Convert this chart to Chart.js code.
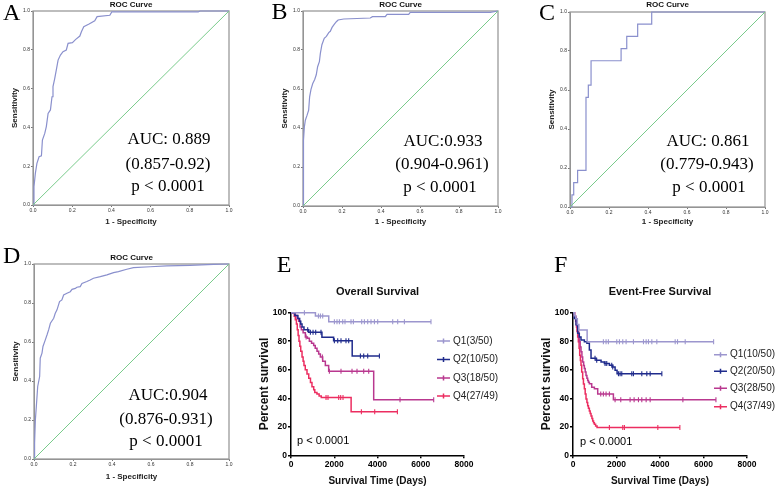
<!DOCTYPE html>
<html>
<head>
<meta charset="utf-8">
<script src="https://cdn.jsdelivr.net/npm/chart.js@4.4.0/dist/chart.umd.min.js"></script>
<style>
  body { margin: 0; background: #fff; }
  #wrap { position: relative; width: 779px; height: 490px; overflow: hidden; background: #fff; }
  canvas { position: absolute; }
</style>
</head>
<body>
<div id="wrap">
  <canvas id="rocA" width="260" height="230" style="left:0px;top:0px"></canvas>
  <canvas id="rocB" width="260" height="230" style="left:260px;top:0px"></canvas>
  <canvas id="rocC" width="260" height="230" style="left:519px;top:0px"></canvas>
  <canvas id="rocD" width="260" height="255" style="left:0px;top:230px"></canvas>
  <canvas id="kmE" width="263" height="240" style="left:256px;top:250px"></canvas>
  <canvas id="kmF" width="241" height="240" style="left:538px;top:250px"></canvas>
</div>
<script>
/* ROC data (1 - specificity, sensitivity) */
const diagX = [0, 1];
const diagY = [0, 1];

const rocA_fpr = [0, .005, .012, .02, .031, .043, .048, .06, .068, .077, .089, .097, .102, .111, .119, .128, .14, .153, .17, .179, .201, .218, .239, .247, .259, .286, .315, .327, .392, .402, .843, .852, 1];
const rocA_tpr = [0, .094, .163, .215, .249, .253, .335, .369, .404, .472, .49, .558, .61, .653, .696, .747, .773, .79, .799, .833, .837, .854, .871, .893, .919, .933, .95, .971, .978, .995, .995, 1, 1];

const rocB_fpr = [0, .002, .003, .007, .012, .021, .029, .034, .041, .05, .06, .068, .075, .084, .089, .097, .109, .12, .132, .14, .149, .161, .171, .18, .209, .345, .356, .422, .431, .542, .55, .961, 1];
const rocB_tpr = [0, .166, .337, .406, .44, .466, .491, .56, .598, .628, .649, .673, .714, .74, .783, .827, .86, .87, .889, .896, .916, .933, .945, .954, .959, .964, .971, .971, .983, .983, .993, .993, 1];

const rocC_fpr = [0, .01, .019, .039, .082, .094, .108, .262, .291, .347, .419, 1];
const rocC_tpr = [0, 0, .0625, .125, .1875, .5625, .625, .75, .8125, .875, .9375, 1];

const rocD_fpr = [0, .003, .007, .012, .019, .029, .032, .041, .046, .058, .067, .075, .084, .101, .109, .118, .131, .143, .152, .169, .186, .195, .212, .22, .237, .246, .271, .288, .305, .34, .374, .408, .433, .476, .51, .596, .681, .8, .92, 1];
const rocD_tpr = [0, .082, .2, .27, .372, .423, .517, .543, .577, .611, .637, .662, .696, .722, .747, .765, .807, .816, .841, .85, .858, .87, .875, .881, .884, .9, .91, .918, .927, .935, .944, .956, .961, .973, .981, .986, .99, .993, .998, 1];

const rocTicks = [0, 0.2, 0.4, 0.6, 0.8, 1.0];
const aucA = ['AUC: 0.889', '(0.857-0.92)', 'p < 0.0001'];
const aucB = ['AUC:0.933', '(0.904-0.961)', 'p < 0.0001'];
const aucC = ['AUC: 0.861', '(0.779-0.943)', 'p < 0.0001'];
const aucD = ['AUC:0.904', '(0.876-0.931)', 'p < 0.0001'];

/* Overall survival: event times (days), survival (%), censored times, last follow-up */
const os_q1_time = [0, 1130, 1745];
const os_q1_surv = [100, 97.7, 93.6];
const os_q1_cens = [620, 1267, 1360, 1466, 2006, 2127, 2238, 2391, 2497, 2775, 2885, 3269, 3394, 3547, 3700, 3857, 4009, 4703, 4934, 5244, 6474];

const os_q2_time = [0, 180, 320, 400, 450, 510, 600, 820, 1430, 1970, 2830];
const os_q2_surv = [100, 98, 96, 94, 92, 90, 88, 86.3, 82.7, 80.3, 69.6];
const os_q2_cens = [772, 896, 1019, 1142, 1387, 2006, 2160, 2312, 2543, 2668, 3209, 3362, 3547, 4088];

const os_q3_time = [0, 200, 280, 356, 420, 479, 560, 664, 760, 849, 950, 1049, 1120, 1203, 1280, 1357, 1465, 1588, 1742, 3824];
const os_q3_surv = [100, 98, 96, 94, 90, 88, 86, 83, 82, 80, 78.5, 77, 75, 73, 71, 69, 66, 63, 59, 39];
const os_q3_cens = [700, 1450, 1775, 2312, 2821, 3052, 3362, 3593, 5041, 6599];

const os_q4_time = [0, 150, 200, 250, 290, 330, 370, 410, 450, 510, 560, 600, 660, 740, 820, 900, 970, 1050, 1100, 1200, 1300, 1400, 2780];
const os_q4_surv = [100, 97.5, 95, 92, 88, 84, 80, 76.5, 73, 69, 66, 63, 60, 57, 54, 51, 48, 46, 44, 43, 41.5, 40.5, 30.5];
const os_q4_cens = [1620, 1711, 2206, 2298, 2405, 3255, 3871, 4920];

const osEnd = [6474, 4088, 6599, 4920];
const osLabels = ['Q1(3/50)', 'Q2(10/50)', 'Q3(18/50)', 'Q4(27/49)'];

/* Event-free survival */
const efs_q1_time = [0, 60, 130, 200, 270, 650];
const efs_q1_surv = [100, 97.9, 95.8, 91.8, 87.8, 79.6];
const efs_q1_cens = [1397, 1520, 1627, 2012, 2135, 2288, 2441, 2779, 3240, 3363, 3470, 3624, 3854, 4698, 4806, 5159, 6465];

const efs_q2_time = [0, 60, 138, 215, 290, 368, 522, 640, 752, 829, 1060, 1290, 1443, 1673, 1827, 1935, 2027];
const efs_q2_surv = [100, 96, 91.5, 85.6, 83, 80.9, 79.7, 78.5, 73.8, 68, 66.7, 65.5, 64.3, 63.1, 62, 59.6, 57.2];
const efs_q2_cens = [1013, 1090, 1474, 1551, 1781, 1827, 2089, 2165, 2242, 2703, 2779, 3163, 3394, 3547, 4085];

const efs_q3_time = [0, 80, 138, 180, 215, 260, 292, 330, 368, 410, 445, 490, 522, 560, 598, 640, 675, 710, 752, 860, 983, 1136, 1857];
const efs_q3_surv = [100, 97, 94, 90.5, 86.8, 83, 79.7, 76, 72.6, 69, 65.5, 63, 60.8, 58.5, 56, 54, 52.5, 51.3, 50.1, 47.8, 46.6, 43, 38.9];
const efs_q3_cens = [1275, 1397, 1520, 1673, 1935, 2196, 2625, 2810, 3009, 3163, 3363, 3547, 5052, 6572];

const efs_q4_time = [0, 60, 123, 160, 184, 215, 246, 280, 307, 340, 368, 400, 445, 480, 522, 560, 598, 640, 675, 710, 752, 790, 829, 870, 906, 945, 983, 1040, 1106];
const efs_q4_surv = [100, 97.5, 94, 90, 86.8, 83, 79.7, 75, 70.2, 66.5, 63.1, 58.5, 53.7, 50, 46.6, 43, 39.4, 37, 34.7, 33, 31.1, 29.3, 27.6, 25.8, 24, 22.8, 21.7, 20.6, 19.5];
const efs_q4_cens = [1673, 2288, 2364, 3900, 4914];

const efsEnd = [6465, 4085, 6572, 4914];
const efsLabels = ['Q1(10/50)', 'Q2(20/50)', 'Q3(28/50)', 'Q4(37/49)'];

const kmXTicks = [0, 2000, 4000, 6000, 8000];
const kmYTicks = [0, 20, 40, 60, 80, 100];

const groupColors = ['#9c96ce', '#1f2b8c', '#b9388f', '#ec2d60'];
const SANS = '"Liberation Sans", Arial, sans-serif';
const SERIF = '"Liberation Serif", "Times New Roman", serif';

Chart.defaults.font.family = SANS;

/* letters, titles, notes, legend and plot frame */
function decor(cfg) {
  return {
    id: 'decor',
    beforeDatasetsDraw(chart) {
      if (!cfg.frame) return;
      const a = chart.chartArea, ctx = chart.ctx;
      ctx.save();
      ctx.strokeStyle = '#9a9a9a';
      ctx.lineWidth = 1.3;
      ctx.strokeRect(a.left, a.top, a.right - a.left, a.bottom - a.top);
      ctx.restore();
    },
    afterDraw(chart) {
      const ctx = chart.ctx, a = chart.chartArea;
      ctx.save();
      ctx.fillStyle = '#000';
      ctx.font = '24px ' + SERIF;
      ctx.textAlign = 'left';
      ctx.textBaseline = 'alphabetic';
      ctx.fillText(cfg.letter, cfg.lx, cfg.ly);

      ctx.fillStyle = '#111';
      ctx.font = cfg.titleFont;
      ctx.textAlign = 'center';
      ctx.textBaseline = 'middle';
      ctx.fillText(cfg.title, (a.left + a.right) / 2, cfg.titleY);

      ctx.font = cfg.noteFont;
      ctx.textAlign = cfg.noteAlign;
      ctx.fillStyle = '#000';
      cfg.notes.forEach((n, i) => ctx.fillText(n, cfg.noteX[i], cfg.noteY[i]));

      if (cfg.legend) {
        const lg = cfg.legend;
        ctx.font = '10px ' + SANS;
        ctx.textAlign = 'left';
        lg.labels.forEach((lab, i) => {
          const y = lg.ys[i];
          ctx.strokeStyle = groupColors[i];
          ctx.lineWidth = 1.5;
          ctx.beginPath();
          ctx.moveTo(lg.x1, y); ctx.lineTo(lg.x2, y);
          const mx = (lg.x1 + lg.x2) / 2;
          ctx.moveTo(mx, y - 2.5); ctx.lineTo(mx, y + 2.5);
          ctx.stroke();
          ctx.fillStyle = '#222';
          ctx.fillText(lab, lg.tx, y);
        });
      }
      ctx.restore();
    }
  };
}

function rocChart(id, fpr, tpr, stepped, pad, xH, deco) {
  const ctx = document.getElementById(id).getContext('2d');
  return new Chart(ctx, {
    type: 'scatter',
    data: {
      datasets: [{
        data: diagX.map((x, i) => ({x: x, y: diagY[i]})),
        showLine: true, borderColor: '#79cb8b', borderWidth: 1, pointRadius: 0, clip: 5
      }, {
        data: fpr.map((x, i) => ({x: x, y: tpr[i]})),
        showLine: true, stepped: stepped ? 'after' : false,
        borderColor: '#8a90cd', borderWidth: 1.2, pointRadius: 0, clip: 5
      }]
    },
    options: {
      responsive: false,
      animation: false,
      devicePixelRatio: 1,
      layout: { padding: pad },
      plugins: { legend: { display: false }, tooltip: { enabled: false } },
      scales: {
        x: {
          type: 'linear', min: 0, max: 1,
          afterFit: s => { s.height = xH; },
          afterBuildTicks: s => { s.ticks = rocTicks.map(v => ({value: v})); },
          border: { color: '#8a8a8a' },
          grid: { drawOnChartArea: false, tickLength: 2, color: '#777' },
          ticks: { padding: 1, maxRotation: 0, autoSkip: false, color: '#333', font: { size: 5 }, callback: v => v.toFixed(1) },
          title: { display: true, text: '1 - Specificity', color: '#222', font: { size: 8, weight: 'bold' }, padding: { top: 0, bottom: 3 } }
        },
        y: {
          type: 'linear', min: 0, max: 1,
          afterFit: s => { s.width = 33; },
          afterBuildTicks: s => { s.ticks = rocTicks.map(v => ({value: v})); },
          border: { color: '#8a8a8a' },
          grid: { drawOnChartArea: false, tickLength: 2, color: '#777' },
          ticks: { padding: 1, autoSkip: false, color: '#333', font: { size: 5 }, callback: v => v.toFixed(1) },
          title: { display: true, text: 'Sensitivity', color: '#222', font: { size: 8, weight: 'bold' }, padding: { top: 9.5, bottom: 0 } }
        }
      }
    },
    plugins: [decor(deco)]
  });
}

function survAt(times, surv, t) {
  let s = surv[0];
  for (let i = 0; i < times.length; i++) {
    if (times[i] <= t) s = surv[i];
  }
  return s;
}

function kmChart(id, groups, ends, pad, deco) {
  const datasets = [];
  groups.forEach((g, i) => {
    const pts = g.t.map((t, k) => ({x: t, y: g.s[k]}));
    pts.push({x: ends[i], y: g.s[g.s.length - 1]});
    datasets.push({
      data: pts, showLine: true, stepped: 'before',
      borderColor: groupColors[i], borderWidth: 1.5, pointRadius: 0, clip: 6
    });
    datasets.push({
      data: g.c.map(t => ({x: t, y: survAt(g.t, g.s, t)})),
      showLine: false, pointStyle: 'line', rotation: 90, pointRadius: 2.5,
      borderColor: groupColors[i], backgroundColor: groupColors[i], borderWidth: 1.1, clip: 6
    });
  });
  const ctx = document.getElementById(id).getContext('2d');
  return new Chart(ctx, {
    type: 'scatter',
    data: { datasets: datasets },
    options: {
      responsive: false,
      animation: false,
      devicePixelRatio: 1,
      layout: { padding: pad },
      plugins: { legend: { display: false }, tooltip: { enabled: false } },
      scales: {
        x: {
          type: 'linear', min: 0, max: 8000,
          afterFit: s => { s.height = 34.7; },
          afterBuildTicks: s => { s.ticks = kmXTicks.map(v => ({value: v})); },
          border: { color: '#000', width: 1.5 },
          grid: { drawOnChartArea: false, tickLength: 3, color: '#000', lineWidth: 1.5 },
          ticks: { padding: 1, maxRotation: 0, autoSkip: false, color: '#000', font: { size: 8.5, weight: 'bold' }, callback: v => String(v) },
          title: { display: true, text: 'Survival Time (Days)', color: '#111', font: { size: 10, weight: 'bold' }, padding: { top: 0, bottom: 3 } }
        },
        y: {
          type: 'linear', min: 0, max: 100,
          afterFit: s => { s.width = 35; },
          afterBuildTicks: s => { s.ticks = kmYTicks.map(v => ({value: v})); },
          border: { color: '#000', width: 1.5 },
          grid: { drawOnChartArea: false, tickLength: 3, color: '#000', lineWidth: 1.5 },
          ticks: { padding: 1, autoSkip: false, color: '#000', font: { size: 8.5, weight: 'bold' }, callback: v => String(v) },
          title: { display: true, text: 'Percent survival', color: '#111', font: { size: 12, weight: 'bold' }, padding: { top: 1, bottom: 0 } }
        }
      }
    },
    plugins: [decor(deco)]
  });
}

const rocTitleFont = 'bold 8px ' + SANS;
const aucFont = '17px ' + SERIF;

rocChart('rocA', rocA_fpr, rocA_tpr, false, {left: 0, top: 11, right: 31, bottom: 0}, 25, {
  frame: true, letter: 'A', lx: 3, ly: 20, title: 'ROC Curve', titleY: 5, titleFont: rocTitleFont,
  notes: aucA, noteX: [169, 168, 168], noteY: [140, 165, 187], noteFont: aucFont, noteAlign: 'center'
});
rocChart('rocB', rocB_fpr, rocB_tpr, false, {left: 10, top: 11, right: 22, bottom: 0}, 24, {
  frame: true, letter: 'B', lx: 11.5, ly: 18.5, title: 'ROC Curve', titleY: 5, titleFont: rocTitleFont,
  notes: aucB, noteX: [183, 182, 180], noteY: [142, 165, 188], noteFont: aucFont, noteAlign: 'center'
});
rocChart('rocC', rocC_fpr, rocC_tpr, true, {left: 18, top: 12, right: 14, bottom: 0}, 23, {
  frame: true, letter: 'C', lx: 20, ly: 19.5, title: 'ROC Curve', titleY: 5, titleFont: rocTitleFont,
  notes: aucC, noteX: [189, 188, 190], noteY: [142, 165, 188], noteFont: aucFont, noteAlign: 'center'
});
rocChart('rocD', rocD_fpr, rocD_tpr, false, {left: 1, top: 34, right: 31, bottom: 0}, 26, {
  frame: true, letter: 'D', lx: 3, ly: 32.7, title: 'ROC Curve', titleY: 28, titleFont: rocTitleFont,
  notes: aucD, noteX: [168, 166, 166], noteY: [166, 190, 212], noteFont: aucFont, noteAlign: 'center'
});

kmChart('kmE', [
  {t: os_q1_time, s: os_q1_surv, c: os_q1_cens},
  {t: os_q2_time, s: os_q2_surv, c: os_q2_cens},
  {t: os_q3_time, s: os_q3_surv, c: os_q3_cens},
  {t: os_q4_time, s: os_q4_surv, c: os_q4_cens}
], osEnd, {left: 0, top: 62.7, right: 55, bottom: 0}, {
  frame: false, letter: 'E', lx: 20.7, ly: 21.7, title: 'Overall Survival', titleY: 42, titleFont: 'bold 11px ' + SANS,
  notes: ['p < 0.0001'], noteX: [41], noteY: [190.7], noteFont: '11px ' + SANS, noteAlign: 'left',
  legend: {labels: osLabels, x1: 181, x2: 194, tx: 197, ys: [91, 109.5, 128, 146]}
});

kmChart('kmF', [
  {t: efs_q1_time, s: efs_q1_surv, c: efs_q1_cens},
  {t: efs_q2_time, s: efs_q2_surv, c: efs_q2_cens},
  {t: efs_q3_time, s: efs_q3_surv, c: efs_q3_cens},
  {t: efs_q4_time, s: efs_q4_surv, c: efs_q4_cens}
], efsEnd, {left: 0, top: 62.7, right: 32, bottom: 0}, {
  frame: false, letter: 'F', lx: 16, ly: 21.7, title: 'Event-Free Survival', titleY: 42, titleFont: 'bold 11px ' + SANS,
  notes: ['p < 0.0001'], noteX: [42], noteY: [192.3], noteFont: '11px ' + SANS, noteAlign: 'left',
  legend: {labels: efsLabels, x1: 176, x2: 189, tx: 192, ys: [104.7, 121.3, 138.3, 156.7]}
});
</script>
</body>
</html>
